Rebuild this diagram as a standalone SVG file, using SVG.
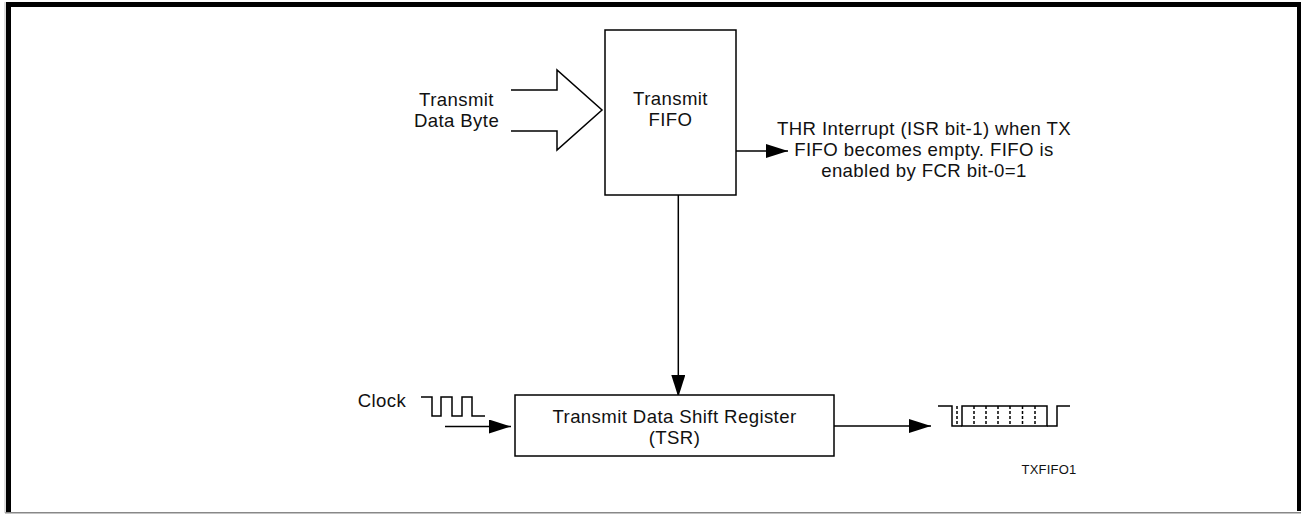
<svg xmlns="http://www.w3.org/2000/svg" width="1301" height="514" viewBox="0 0 1301 514">
<style>
text{font-family:"Liberation Sans",Arial,sans-serif;font-size:18.6px;letter-spacing:0.4px;fill:#111;text-anchor:middle}
.box{fill:#fff;stroke:#000;stroke-width:1.5}
.ln{fill:none;stroke:#000;stroke-width:1.5}
.dash{fill:none;stroke:#000;stroke-width:1.5;stroke-dasharray:3 2}
.small{font-size:13px;letter-spacing:0.2px}
</style>
<defs>
<marker id="ah" markerWidth="22" markerHeight="14" refX="22" refY="7" orient="auto" markerUnits="userSpaceOnUse">
<path d="M0,0 L22,7 L0,14 Z" fill="#000"/>
</marker>
</defs>
<rect x="0" y="0" width="1301" height="514" fill="#fff"/>
<g id="frame">
<rect x="6" y="2" width="1295" height="5" fill="#000"/>
<rect x="6" y="2" width="5" height="511" fill="#000"/>
<rect x="1297" y="2" width="4" height="509" fill="#000"/>
<line x1="5" y1="512.8" x2="1301" y2="512.8" stroke="#888" stroke-width="1.5"/>
<line x1="5" y1="2" x2="5" y2="513" stroke="#bbb" stroke-width="1"/>
</g>
<g id="connectors">
<path class="ln" d="M511,90 H557 V70 L602,110 L557,150 V131 H511"/>
<line class="ln" x1="736" y1="151" x2="788" y2="151" marker-end="url(#ah)"/>
<line class="ln" x1="678.3" y1="195" x2="678.3" y2="397" marker-end="url(#ah)"/>
<line class="ln" x1="445" y1="426.5" x2="511" y2="426.5" marker-end="url(#ah)"/>
<line class="ln" x1="834" y1="426" x2="931" y2="426" marker-end="url(#ah)"/>
</g>
<g id="input-label">
<text x="456.5" y="106">Transmit</text>
<text x="456.5" y="127">Data Byte</text>
</g>
<g id="transmit-fifo">
<rect class="box" x="605" y="30" width="131" height="165"/>
<text x="670.5" y="105">Transmit</text>
<text x="670.5" y="126">FIFO</text>
</g>
<g id="thr-label">
<text x="924" y="135">THR Interrupt (ISR bit-1) when TX</text>
<text x="924" y="156">FIFO becomes empty. FIFO is</text>
<text x="924" y="177">enabled by FCR bit-0=1</text>
</g>
<g id="clock">
<text x="382" y="407">Clock</text>
<path class="ln" d="M421,397 H432 V416 H441 V397 H452 V416 H462 V397 H472 V416 H485"/>
</g>
<g id="tsr">
<rect class="box" x="515" y="395" width="319" height="61"/>
<text x="674.5" y="423">Transmit Data Shift Register</text>
<text x="674.5" y="444">(TSR)</text>
</g>
<g id="serial-output">
<path class="ln" d="M938,406 H952 V426 H962"/>
<line class="dash" x1="957" y1="406" x2="957" y2="426"/>
<rect class="ln" x="962" y="406" width="85" height="20"/>
<path class="dash" d="M974,406 V426 M986,406 V426 M998,406 V426 M1010,406 V426 M1022.5,406 V426 M1035,406 V426"/>
<path class="ln" d="M1047,426 H1057 V406 H1070"/>
</g>
<g id="figure-id">
<text class="small" x="1049" y="474">TXFIFO1</text>
</g>
</svg>
